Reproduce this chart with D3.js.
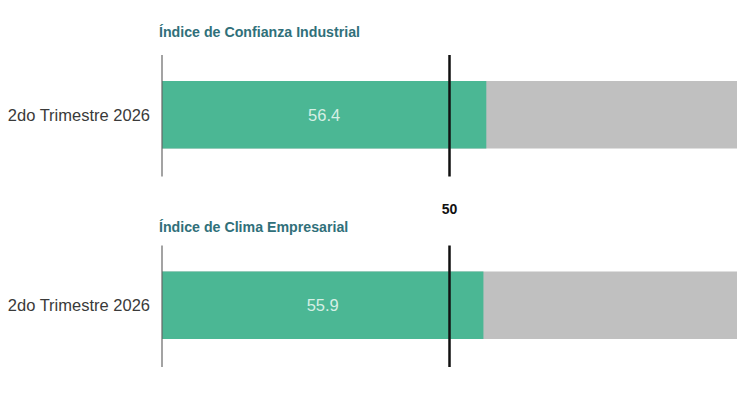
<!DOCTYPE html>
<html>
<head>
<meta charset="utf-8">
<script src="https://cdn.jsdelivr.net/npm/d3@7"></script>
<style>
  html, body { margin: 0; padding: 0; background: #fff; }
  svg { display: block; }
</style>
</head>
<body>
<div id="chart"></div>
<script>
const panelTitles = ["Índice de Confianza Industrial", "Índice de Clima Empresarial"];
const categories = ["2do Trimestre 2026", "2do Trimestre 2026"];
const values = [56.4, 55.9];
const maxValue = 100;
const threshold = 50;
const thresholdLabel = "50";

const W = 750, H = 408;
const svg = d3.select("#chart").append("svg").attr("width", W).attr("height", H);

const x = d3.scaleLinear().domain([0, maxValue]).range([162, 737]);
const panelY = d3.scaleBand().domain(d3.range(values.length)).range([0, 381]).paddingInner(0);
const titleOffsets = [36.5, 41.5]; // layout: title baseline within each panel
const font = "'Liberation Sans', Arial, Helvetica, sans-serif";

values.forEach((v, i) => {
  const g = svg.append("g").attr("transform", `translate(0,${panelY(i)})`);
  const barTop = 81, barH = 67.5, lineTop = 55, lineBot = 176.5;

  g.append("text")
    .attr("x", 159).attr("y", titleOffsets[i])
    .attr("font-family", font).attr("font-weight", "bold").attr("font-size", 14.2)
    .attr("fill", "#30707a")
    .text(panelTitles[i]);

  // background (max) bar
  g.append("rect")
    .attr("x", x(0)).attr("y", barTop)
    .attr("width", x(maxValue) - x(0)).attr("height", barH)
    .attr("fill", "#c0c0c0");
  // value bar
  g.append("rect")
    .attr("x", x(0)).attr("y", barTop)
    .attr("width", x(v) - x(0)).attr("height", barH)
    .attr("fill", "#4bb794");

  // axis line
  g.append("line")
    .attr("x1", x(0)).attr("x2", x(0))
    .attr("y1", lineTop).attr("y2", lineBot)
    .attr("stroke", "#666").attr("stroke-width", 1.2);

  // threshold line
  g.append("line")
    .attr("x1", x(threshold)).attr("x2", x(threshold))
    .attr("y1", lineTop).attr("y2", lineBot)
    .attr("stroke", "#111").attr("stroke-width", 2.5);

  // category label
  g.append("text")
    .attr("x", 150).attr("y", barTop + barH / 2 + 6)
    .attr("text-anchor", "end")
    .attr("font-family", font).attr("font-size", 16.5)
    .attr("fill", "#3a3a3a")
    .text(categories[i]);

  // value label
  g.append("text")
    .attr("x", (x(0) + x(v)) / 2).attr("y", barTop + barH / 2 + 6)
    .attr("text-anchor", "middle")
    .attr("font-family", font).attr("font-size", 16.5)
    .attr("fill", "#d6efe5")
    .text(v.toFixed(1));
});

svg.append("text")
  .attr("x", x(threshold)).attr("y", 214)
  .attr("text-anchor", "middle")
  .attr("font-family", font).attr("font-weight", "bold").attr("font-size", 14)
  .attr("fill", "#111")
  .text(thresholdLabel);
</script>
</body>
</html>
